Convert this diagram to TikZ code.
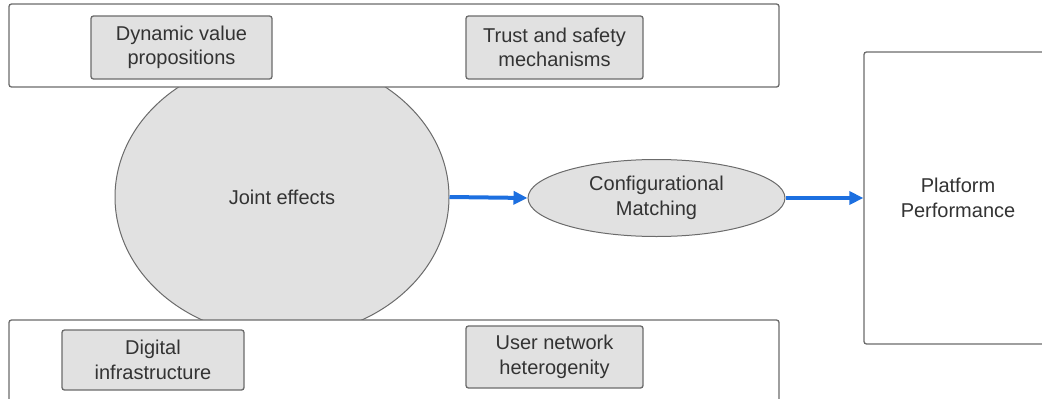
\documentclass[tikz,border=0pt]{standalone}
\usepackage{fontspec}
\setmainfont{Liberation Sans}
\usetikzlibrary{shapes.geometric,arrows.meta}
\definecolor{textgray}{HTML}{333333}
\definecolor{boxfill}{HTML}{E1E1E1}
\definecolor{linegray}{HTML}{6B6B6B}
\definecolor{flowblue}{HTML}{1C6FE0}

\begin{document}
\begin{tikzpicture}[x=1pt,y=-1pt,
  every node/.style={font=\fontsize{20}{24.5}\selectfont, text=textgray, align=center, inner sep=0pt},
  band/.style={draw=linegray, line width=1.3pt, fill=white, rounded corners=2.5pt},
  factor/.style={draw=linegray, line width=1.3pt, fill=boxfill, rounded corners=2.5pt},
  oval/.style={ellipse, draw=linegray, line width=1pt, fill=boxfill},
  flow/.style={draw=flowblue, line width=4pt, -{Triangle[length=14pt,width=13pt]}}]
  \useasboundingbox (0,0) rectangle (1042,399);
  \clip (0,0) rectangle (1042,399);

  % central oval, partly hidden behind the two bands
  \node[oval, minimum width=334pt, minimum height=280pt] (joint) at (282,197) {Joint effects};

  % upper and lower bands
  \node[band, minimum width=770pt, minimum height=83pt] (topband) at (394,45.5) {};
  \node[band, minimum width=770pt, minimum height=100pt] (botband) at (394,370) {};

  % factor boxes
  \node[factor, minimum width=181pt, minimum height=63pt] (dyn) at (181.5,47.5) {Dynamic value\\propositions};
  \node[factor, minimum width=177pt, minimum height=63pt] (trust) at (554.5,47.5) {Trust and safety\\mechanisms};
  \node[factor, minimum width=182pt, minimum height=60pt] (digital) at (153,360) {Digital\\infrastructure};
  \node[factor, minimum width=177pt, minimum height=62pt] (usernet) at (554.5,357) {User network\\heterogenity};

  % matching and outcome
  \node[oval, minimum width=257pt, minimum height=77pt] (config) at (656.5,198) {Configurational\\Matching};
  \node[band, minimum width=188pt, minimum height=292pt] (platform) at (958,198) {Platform\\Performance};

  % flows
  \draw[flow] (joint.east) -- (config.west);
  \draw[flow] (config.east) -- (platform.west);
\end{tikzpicture}
\end{document}
